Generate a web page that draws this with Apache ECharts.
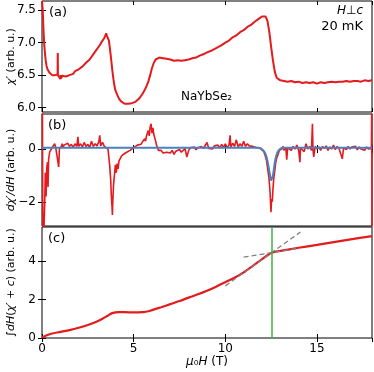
<!DOCTYPE html>
<html>
<head>
<meta charset="utf-8">
<script src="https://cdn.jsdelivr.net/npm/echarts@6/dist/echarts.min.js"></script>
<style>
  html,body{margin:0;padding:0;background:#fff;}
  #chart{width:374px;height:372px;}
</style>
</head>
<body>
<div id="chart"></div>
<script>
  // (a) chi' vs field
  var chiData = [[0,7.64],[0.04,7.5],[0.08,7.2],[0.12,6.98],[0.16,6.84],[0.2,6.73],[0.25,6.64],[0.3,6.59],[0.35,6.56],[0.4,6.54],[0.45,6.52],[0.5,6.51],[0.55,6.5],[0.6,6.51],[0.65,6.49],[0.7,6.5],[0.75,6.48],[0.8,6.5],[0.85,6.51],[0.86,6.84],[0.87,6.5],[0.9,6.47],[0.95,6.49],[1.0,6.44],[1.02,6.5],[1.05,6.45],[1.1,6.49],[1.15,6.46],[1.2,6.49],[1.3,6.48],[1.4,6.51],[1.5,6.5],[1.6,6.53],[1.7,6.52],[1.8,6.56],[1.9,6.55],[2.0,6.59],[2.1,6.6],[2.2,6.63],[2.3,6.65],[2.4,6.69],[2.5,6.71],[2.6,6.74],[2.7,6.78],[2.8,6.81],[2.9,6.86],[3.0,6.89],[3.1,6.94],[3.2,6.98],[3.3,7.03],[3.4,7.07],[3.45,7.1],[3.5,7.14],[3.55,7.1],[3.6,7.09],[3.65,7.03],[3.7,6.92],[3.75,6.8],[3.8,6.67],[3.85,6.54],[3.9,6.43],[3.95,6.34],[4.0,6.27],[4.1,6.2],[4.2,6.14],[4.3,6.1],[4.4,6.08],[4.5,6.06],[4.6,6.05],[4.7,6.06],[4.8,6.05],[4.9,6.07],[5.0,6.08],[5.1,6.09],[5.2,6.11],[5.3,6.14],[5.4,6.18],[5.5,6.22],[5.6,6.27],[5.7,6.33],[5.8,6.4],[5.9,6.5],[6.0,6.61],[6.1,6.69],[6.2,6.74],[6.3,6.76],[6.4,6.77],[6.5,6.75],[6.6,6.76],[6.7,6.74],[6.8,6.75],[6.9,6.73],[7.0,6.74],[7.2,6.72],[7.4,6.73],[7.6,6.72],[7.8,6.73],[8.0,6.74],[8.2,6.76],[8.4,6.77],[8.6,6.8],[8.8,6.82],[9.0,6.85],[9.2,6.87],[9.4,6.9],[9.6,6.93],[9.8,6.96],[10.0,7.0],[10.2,7.03],[10.4,7.08],[10.6,7.11],[10.8,7.16],[11.0,7.19],[11.2,7.24],[11.4,7.27],[11.6,7.32],[11.8,7.36],[12.0,7.4],[12.05,7.43],[12.1,7.41],[12.2,7.4],[12.3,7.33],[12.4,7.16],[12.5,6.93],[12.6,6.72],[12.7,6.55],[12.8,6.46],[12.9,6.43],[13.0,6.42],[13.2,6.41],[13.4,6.4],[13.6,6.41],[13.8,6.39],[14.0,6.4],[14.2,6.38],[14.4,6.39],[14.6,6.38],[14.8,6.39],[14.9,6.41],[15.0,6.37],[15.2,6.39],[15.4,6.38],[15.6,6.39],[15.8,6.4],[16.0,6.39],[16.2,6.4],[16.4,6.4],[16.6,6.41],[16.8,6.4],[17.0,6.41],[17.2,6.41],[17.4,6.4],[17.6,6.42],[17.8,6.41],[18.0,6.42]];

  // (b) derivative and fit
  var dchiData = [[0.02,2],[0.05,-4],[0.1,-3.2],[0.15,-2.0],[0.18,-0.9],[0.22,-1.8],[0.26,-0.7],[0.3,-0.5],[0.33,-1.44],[0.36,-0.4],[0.42,-0.11],[0.5,-0.05],[0.6,0.1],[0.69,0.2],[0.75,0.05],[0.85,0.1],[0.91,-0.68],[0.95,0.0],[1.05,0.1],[1.1,0.2],[1.15,0.05],[1.2,0.15],[1.3,0.08],[1.4,0.22],[1.5,0.1],[1.6,0.18],[1.7,0.06],[1.8,0.2],[1.9,0.1],[1.96,0.46],[2.0,0.1],[2.1,0.2],[2.2,0.08],[2.3,0.25],[2.4,0.1],[2.5,0.18],[2.6,0.05],[2.7,0.3],[2.8,0.1],[2.9,0.2],[3.0,0.12],[3.1,0.28],[3.15,0.52],[3.2,0.12],[3.3,0.25],[3.4,0.1],[3.5,0.15],[3.6,0.0],[3.69,-0.6],[3.75,-1.2],[3.78,-1.75],[3.82,-2.2],[3.84,-2.5],[3.86,-2.0],[3.9,-1.4],[3.93,-1.13],[3.97,-0.85],[4.0,-0.6],[4.05,-0.9],[4.1,-0.55],[4.15,-0.75],[4.2,-0.45],[4.3,-0.4],[4.35,-0.25],[4.45,-0.3],[4.55,-0.15],[4.65,-0.2],[4.8,-0.05],[4.9,0.0],[5.0,0.05],[5.1,0.0],[5.2,0.15],[5.3,0.2],[5.4,0.18],[5.5,0.3],[5.6,0.39],[5.65,0.3],[5.7,0.5],[5.75,0.45],[5.8,0.7],[5.85,0.5],[5.9,0.84],[5.95,0.96],[6.0,0.6],[6.05,0.8],[6.1,0.55],[6.15,0.52],[6.2,0.3],[6.25,0.14],[6.3,0.05],[6.35,-0.05],[6.4,-0.1],[6.5,-0.05],[6.6,-0.15],[6.7,-0.08],[6.8,-0.12],[6.9,-0.05],[7.0,-0.15],[7.1,-0.05],[7.2,-0.2],[7.3,-0.08],[7.4,-0.1],[7.5,-0.02],[7.6,-0.12],[7.7,-0.05],[7.8,0.02],[7.9,-0.3],[8.0,-0.05],[8.1,0.05],[8.2,-0.02],[8.3,0.08],[8.4,-0.03],[8.5,0.05],[8.6,0.0],[8.7,0.1],[8.8,0.02],[8.9,0.06],[9.0,0.25],[9.1,0.02],[9.2,0.08],[9.3,0.0],[9.4,0.12],[9.5,0.05],[9.6,0.15],[9.7,0.04],[9.8,0.18],[9.9,0.06],[10.0,0.2],[10.1,0.05],[10.2,0.15],[10.26,0.52],[10.3,0.08],[10.4,0.22],[10.5,0.1],[10.6,0.35],[10.7,0.08],[10.8,0.2],[10.9,0.1],[11.0,0.3],[11.1,0.1],[11.2,0.2],[11.3,0.12],[11.4,0.18],[11.5,0.1],[11.6,0.15],[11.7,0.06],[11.8,0.1],[11.9,0.03],[12.0,0.0],[12.1,-0.1],[12.17,-0.24],[12.25,-0.45],[12.31,-0.75],[12.38,-1.1],[12.44,-1.63],[12.49,-2.4],[12.52,-1.9],[12.56,-2.0],[12.6,-1.5],[12.64,-1.13],[12.7,-0.8],[12.75,-0.5],[12.8,-0.35],[12.89,-0.18],[12.95,-0.05],[13.0,-0.1],[13.08,0.0],[13.15,0.1],[13.2,-0.05],[13.3,0.05],[13.35,-0.4],[13.4,0.05],[13.5,0.12],[13.6,-0.05],[13.7,0.1],[13.8,0.0],[13.9,0.15],[14.0,-0.05],[14.07,-0.5],[14.1,0.05],[14.2,0.12],[14.3,-0.1],[14.4,0.2],[14.5,0.0],[14.6,0.1],[14.7,-0.05],[14.75,0.96],[14.78,0.0],[14.82,-0.3],[14.9,0.1],[15.0,0.0],[15.1,0.08],[15.2,-0.05],[15.3,0.1],[15.4,0.02],[15.5,0.12],[15.6,-0.05],[15.7,0.08],[15.8,0.0],[15.9,0.15],[16.0,-0.02],[16.1,0.1],[16.2,0.02],[16.3,0.08],[16.38,-0.37],[16.45,0.05],[16.5,0.12],[16.6,-0.02],[16.7,0.1],[16.8,0.0],[16.9,0.08],[17.0,0.02],[17.1,0.1],[17.2,-0.03],[17.3,0.08],[17.4,0.0],[17.5,0.06],[17.6,-0.05],[17.7,0.08],[17.8,0.0],[17.9,0.05],[17.97,0.02],[17.99,2],[18,-4]];
  var fitData = [[0,0.05],[11.8,0.05],[11.9,0.03],[12.0,-0.01],[12.1,-0.08],[12.2,-0.2],[12.3,-0.45],[12.4,-0.85],[12.5,-1.18],[12.6,-0.98],[12.7,-0.5],[12.8,-0.2],[12.9,-0.06],[13.0,0.01],[13.1,0.04],[13.3,0.05],[18,0.05]];

  // (c) integrated curve, tangents, kink position
  var intData = [[0,0.03],[0.2,0.12],[0.5,0.22],[1.0,0.32],[1.5,0.41],[2.0,0.53],[2.5,0.68],[3.0,0.86],[3.3,1.0],[3.6,1.17],[3.8,1.28],[4.0,1.33],[4.2,1.34],[4.5,1.34],[5.0,1.33],[5.5,1.35],[5.8,1.39],[6.0,1.45],[6.5,1.6],[7.0,1.76],[7.5,1.92],[8.0,2.1],[8.5,2.27],[9.0,2.46],[9.5,2.67],[10.0,2.9],[10.5,3.13],[11.0,3.41],[11.5,3.75],[12.0,4.1],[12.3,4.3],[12.55,4.44],[12.8,4.5],[13.0,4.53],[14.0,4.69],[15.0,4.84],[16.0,5.0],[17.0,5.15],[18.0,5.3]];
  var tangentSteep = [[10,2.71],[14.1,5.51]];
  var tangentFlat = [[11.0,4.2],[14.0,4.67]];
  var kinkField = 12.55;

  var yTicksA = [6.0, 6.5, 7.0, 7.5];
  var yTicksB = [-2, 0];
  var yTicksC = [0, 2, 4];

  var red = '#e41a1c';
  var font = 'DejaVu Sans';

  function xAx(gi, pos, showLabel) {
    return {
      type: 'value', gridIndex: gi, position: pos, min: 0, max: 18, interval: 5,
      axisLine: {show: false},
      axisTick: {inside: true, length: 4, lineStyle: {color: '#000'}},
      axisLabel: {show: showLabel, showMaxLabel: false, color: '#000', fontFamily: font, fontSize: 12, margin: 5},
      splitLine: {show: false},
      name: showLabel ? '{i|μ}₀{i|H} (T)' : '',
      nameLocation: 'middle', nameGap: 18, nameMoveOverlap: false,
      nameTextStyle: {color: '#000', fontFamily: font, fontSize: 12, rich: {i: {fontStyle: 'italic', fontFamily: font, fontSize: 12}}}
    };
  }
  function yAx(gi, pos, min, max, ticks, fmt, name) {
    return {
      type: 'value', gridIndex: gi, position: pos, min: min, max: max,
      axisLine: {show: false},
      axisTick: {inside: true, length: 4, lineStyle: {color: '#000'}, customValues: ticks},
      axisLabel: {show: pos === 'left', customValues: ticks, formatter: fmt, color: '#000', fontFamily: font, fontSize: 12, margin: 6},
      splitLine: {show: false},
      name: pos === 'left' ? name : '',
      nameLocation: 'middle', nameGap: 25, nameMoveOverlap: false,
      nameTextStyle: {color: '#000', fontFamily: font, fontSize: 11, rich: {i: {fontStyle: 'italic', fontFamily: font, fontSize: 11}}}
    };
  }
  var fmtA = function (v) { return v.toFixed(1); };
  var fmtInt = function (v) { return (v < 0 ? '−' : '') + Math.abs(v); };

  var chart = echarts.init(document.getElementById('chart'));
  var gridBase = {left: 42, width: 330, show: true, borderColor: '#000', borderWidth: 1, outerBoundsMode: 'none', containLabel: false};
  var option = {
    animation: false,
    grid: [
      Object.assign({}, gridBase, {top: 1, height: 111}),
      Object.assign({}, gridBase, {top: 114, height: 112}),
      Object.assign({}, gridBase, {top: 227, height: 111})
    ],
    xAxis: [xAx(0, 'bottom', false), xAx(0, 'top', false), xAx(1, 'bottom', false), xAx(1, 'top', false), xAx(2, 'bottom', true), xAx(2, 'top', false)],
    yAxis: [
      yAx(0, 'left', 5.934, 7.638, yTicksA, fmtA, '{i|χ′} (arb. u.)'),
      yAx(0, 'right', 5.934, 7.638, yTicksA, fmtA, ''),
      yAx(1, 'left', -2.92, 1.33, yTicksB, fmtInt, '{i|dχ′/dH} (arb. u.)'),
      yAx(1, 'right', -2.92, 1.33, yTicksB, fmtInt, ''),
      yAx(2, 'left', 0, 5.77, yTicksC, fmtInt, '∫{i|dH}({i|χ′} + {i|c}) (arb. u.)'),
      yAx(2, 'right', 0, 5.77, yTicksC, fmtInt, '')
    ],
    series: [
      {type: 'line', xAxisIndex: 0, yAxisIndex: 0, data: chiData, showSymbol: false, lineStyle: {color: red, width: 2}},
      {type: 'line', xAxisIndex: 2, yAxisIndex: 2, data: dchiData, showSymbol: false, lineStyle: {color: red, width: 1.6}},
      {type: 'line', xAxisIndex: 2, yAxisIndex: 2, data: fitData, showSymbol: false, smooth: 0.3, lineStyle: {color: '#4a80c0', width: 2}},
      {type: 'line', xAxisIndex: 4, yAxisIndex: 4, data: intData, showSymbol: false, smooth: 0.3, lineStyle: {color: red, width: 2.2},
        markLine: {symbol: 'none', silent: true, label: {show: false}, lineStyle: {color: '#3cb043', width: 1.5, type: 'solid'}, data: [{xAxis: kinkField}]}},
      {type: 'line', xAxisIndex: 4, yAxisIndex: 4, data: tangentSteep, showSymbol: false, lineStyle: {color: '#808080', width: 1.3, type: [5, 3]}},
      {type: 'line', xAxisIndex: 4, yAxisIndex: 4, data: tangentFlat, showSymbol: false, lineStyle: {color: '#808080', width: 1.3, type: [5, 3]}}
    ],
    graphic: [
      {type: 'text', left: 49, top: 6, style: {text: '(a)', font: '13px DejaVu Sans', fill: '#000'}},
      {type: 'text', left: 48, top: 119, style: {text: '(b)', font: '13px DejaVu Sans', fill: '#000'}},
      {type: 'text', left: 48, top: 232, style: {text: '(c)', font: '13px DejaVu Sans', fill: '#000'}},
      {type: 'text', right: 11, top: 5, style: {text: '{i|H}⊥{i|c}', font: '12px DejaVu Sans', fill: '#000', rich: {i: {fontStyle: 'italic', fontFamily: font, fontSize: 12}}}},
      {type: 'text', right: 11, top: 20, style: {text: '20 mK', font: '13px DejaVu Sans', fill: '#000'}},
      {type: 'text', left: 181, top: 91, style: {text: 'NaYbSe₂', font: '12px DejaVu Sans', fill: '#000'}}
    ]
  };
  chart.setOption(option);
</script>
</body>
</html>
